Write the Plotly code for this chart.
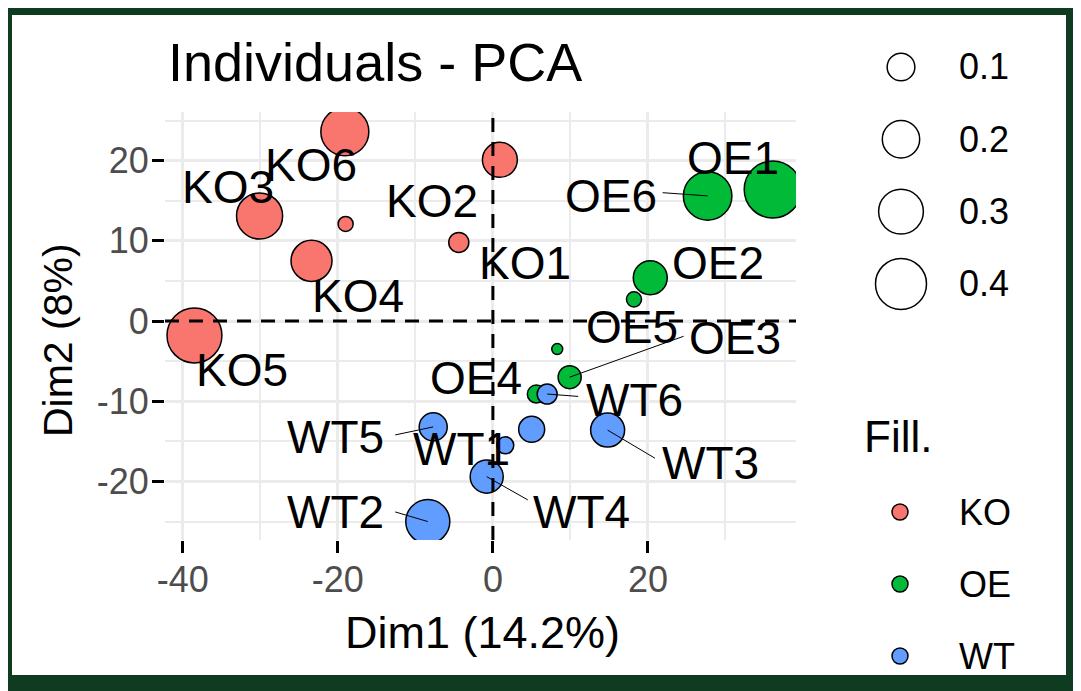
import plotly.graph_objects as go
import math

# ---------------- data ----------------
groups = ["KO", "OE", "WT"]
group_colors = {"KO": "#F8766D", "OE": "#00BA38", "WT": "#619CFF"}

ko_names = ["KO6", "KO3", "KO7", "KO2", "KO4", "KO5", "KO1"]
ko_dim1 = [-19.1, -30.1, -19.0, -4.4, -23.4, -38.5, 0.9]
ko_dim2 = [23.6, 13.1, 12.1, 9.8, 7.5, -1.8, 20.1]
ko_cos2 = [0.35, 0.32, 0.021, 0.045, 0.247, 0.47, 0.172]

oe_names = ["OE1", "OE6", "OE2", "OE5", "OE7", "OE3", "OE4"]
oe_dim1 = [36.1, 27.7, 20.3, 18.2, 8.3, 9.9, 5.6]
oe_dim2 = [16.4, 15.6, 5.4, 2.7, -3.5, -7.0, -9.1]
oe_cos2 = [0.51, 0.358, 0.161, 0.021, 0.008, 0.064, 0.034]

wt_names = ["WT5", "WT2", "WT4", "WT1", "WT7", "WT6", "WT3"]
wt_dim1 = [-7.7, -8.4, -0.8, 1.6, 5.0, 7.0, 14.8]
wt_dim2 = [-13.2, -25.0, -19.4, -15.5, -13.5, -9.1, -13.6]
wt_cos2 = [0.103, 0.289, 0.151, 0.029, 0.086, 0.045, 0.161]

# repelled label placement (data units)
label_text = ["KO6", "KO3", "KO2", "KO1", "KO4", "KO5",
              "OE1", "OE6", "OE2", "OE5", "OE3", "OE4",
              "WT6", "WT5", "WT1", "WT3", "WT4", "WT2"]
label_x = [-23.5, -34.2, -7.9, 4.1, -17.4, -32.4,
           31.0, 15.2, 29.0, 17.9, 31.2, -2.2,
           18.3, -20.3, -4.0, 28.1, 11.4, -20.3]
label_y = [19.5, 16.7, 15.0, 7.2, 3.1, -6.1,
           20.3, 15.6, 7.2, -0.7, -2.1, -7.1,
           -9.9, -14.5, -16.0, -17.7, -23.8, -23.8]

# repel segments: sample -> end point near its label
seg_sample = ["OE6", "OE3", "WT6", "WT5", "WT3", "WT4", "WT2"]
seg_end_x = [21.9, 24.6, 11.0, -12.6, 20.9, 4.5, -12.6]
seg_end_y = [16.0, -1.9, -9.4, -14.2, -17.1, -22.3, -23.8]

size_breaks = [0.1, 0.2, 0.3, 0.4]

x_tickvals = [-40, -20, 0, 20]
x_ticktext = ["-40", "-20", "0", "20"]
y_tickvals = [-20, -10, 0, 10, 20]
y_ticktext = ["-20", "-10", "0", "10", "20"]

x_range = [-42.3, 39.1]
y_range = [-27.3, 26.06]

# ---------------- helpers ----------------
W, H = 1081, 691
OFF = 8  # page offset of the figure inside the browser window


def px_x(p):
    return (p - OFF) / W


def px_y(p):
    return 1 - (p - OFF) / H


def size_px(v):
    # ggplot-like size scale (diameter grows with sqrt of value)
    return 4.4 + 73.7 * math.sqrt(v)


FONT = "Liberation Sans, Arial, sans-serif"

fig = go.Figure()

data = {
    "KO": (ko_names, ko_dim1, ko_dim2, ko_cos2),
    "OE": (oe_names, oe_dim1, oe_dim2, oe_cos2),
    "WT": (wt_names, wt_dim1, wt_dim2, wt_cos2),
}
lookup = {}
for g in groups:
    names, xs, ys, cs = data[g]
    for n, x, y in zip(names, xs, ys):
        lookup[n] = (x, y)
    fig.add_trace(go.Scatter(
        x=xs, y=ys, mode="markers", name=g, text=names,
        marker=dict(size=[size_px(c) for c in cs], color=group_colors[g],
                    line=dict(color="black", width=1.5), opacity=1),
        showlegend=False, hoverinfo="text+x+y"))

# repel segments
for s, ex, ey in zip(seg_sample, seg_end_x, seg_end_y):
    sx, sy = lookup[s]
    fig.add_trace(go.Scatter(x=[sx, ex], y=[sy, ey], mode="lines",
                             line=dict(color="black", width=1),
                             showlegend=False, hoverinfo="skip"))

annotations = []
for t, x, y in zip(label_text, label_x, label_y):
    annotations.append(dict(x=x, y=y, xref="x", yref="y", text=t,
                            showarrow=False, xanchor="center", yanchor="middle",
                            font=dict(family=FONT, size=46, color="black")))

# title & axis titles
annotations.append(dict(x=px_x(166), y=px_y(62), xref="paper", yref="paper",
                        text="Individuals - PCA", showarrow=False,
                        xanchor="left", yanchor="middle",
                        font=dict(family=FONT, size=54, color="black")))
annotations.append(dict(x=px_x(482), y=px_y(632), xref="paper", yref="paper",
                        text="Dim1 (14.2%)", showarrow=False,
                        xanchor="center", yanchor="middle",
                        font=dict(family=FONT, size=45, color="black")))
annotations.append(dict(x=px_x(58), y=px_y(340), xref="paper", yref="paper",
                        text="Dim2 (8%)", showarrow=False, textangle=-90,
                        xanchor="center", yanchor="middle",
                        font=dict(family=FONT, size=41, color="black")))

shapes = []
# white card on dark-green frame
shapes.append(dict(type="rect", xref="paper", yref="paper",
                   x0=px_x(12), x1=px_x(1066), y0=px_y(675), y1=px_y(15),
                   fillcolor="white", line=dict(width=0), layer="below"))
# dashed zero lines
shapes.append(dict(type="line", xref="x", yref="paper",
                   x0=0, x1=0, y0=px_y(540), y1=px_y(112),
                   line=dict(color="black", width=3, dash="14px,10px"), layer="above"))
shapes.append(dict(type="line", xref="paper", yref="y",
                   x0=px_x(165), x1=px_x(796), y0=0, y1=0,
                   line=dict(color="black", width=3, dash="14px,10px"), layer="above"))

# size legend
for i, b in enumerate(size_breaks):
    cy = 67 + i * 72.3
    r = size_px(b) / 2
    shapes.append(dict(type="circle", xref="paper", yref="paper",
                       xsizemode="pixel", ysizemode="pixel",
                       xanchor=px_x(901), yanchor=px_y(cy),
                       x0=-r, x1=r, y0=-r, y1=r,
                       fillcolor="white", line=dict(color="black", width=1.5)))
    annotations.append(dict(x=px_x(957), y=px_y(cy), xref="paper", yref="paper",
                            text=str(b), showarrow=False, xanchor="left",
                            yanchor="middle",
                            font=dict(family=FONT, size=36, color="black")))

# fill legend
annotations.append(dict(x=px_x(862), y=px_y(436), xref="paper", yref="paper",
                        text="Fill.", showarrow=False, xanchor="left",
                        yanchor="middle",
                        font=dict(family=FONT, size=44, color="black")))
for i, g in enumerate(groups):
    cy = 512 + i * 72
    r = 8
    shapes.append(dict(type="circle", xref="paper", yref="paper",
                       xsizemode="pixel", ysizemode="pixel",
                       xanchor=px_x(900), yanchor=px_y(cy),
                       x0=-r, x1=r, y0=-r, y1=r,
                       fillcolor=group_colors[g], line=dict(color="black", width=1.5)))
    annotations.append(dict(x=px_x(957), y=px_y(cy), xref="paper", yref="paper",
                            text=g, showarrow=False, xanchor="left",
                            yanchor="middle",
                            font=dict(family=FONT, size=36, color="black")))

axis_common = dict(showline=False, zeroline=False, automargin=False,
                   ticks="outside", ticklen=12, tickwidth=3, tickcolor="black",
                   showgrid=True, gridcolor="#EBEBEB", gridwidth=3,
                   tickfont=dict(family=FONT, size=36, color="#4D4D4D"))

fig.update_layout(
    width=W, height=H,
    margin=dict(l=0, r=0, t=0, b=0),
    paper_bgcolor="#0f3b20",
    plot_bgcolor="rgba(0,0,0,0)",
    xaxis=dict(domain=[px_x(165), px_x(796)], range=x_range,
               tickmode="array", tickvals=x_tickvals, ticktext=x_ticktext,
               ticklabelstandoff=-4,
               minor=dict(tickmode="linear", tick0=-40, dtick=10, showgrid=True,
                          gridcolor="#EBEBEB", gridwidth=1.5),
               **axis_common),
    yaxis=dict(domain=[px_y(540), px_y(112)], range=y_range,
               tickmode="array", tickvals=y_tickvals, ticktext=y_ticktext,
               ticklabelstandoff=-4,
               minor=dict(tickmode="linear", tick0=-25, dtick=10, showgrid=True,
                          gridcolor="#EBEBEB", gridwidth=1.5),
               **axis_common),
    annotations=annotations,
    shapes=shapes,
    showlegend=False,
)

fig.write_html("out.html")
